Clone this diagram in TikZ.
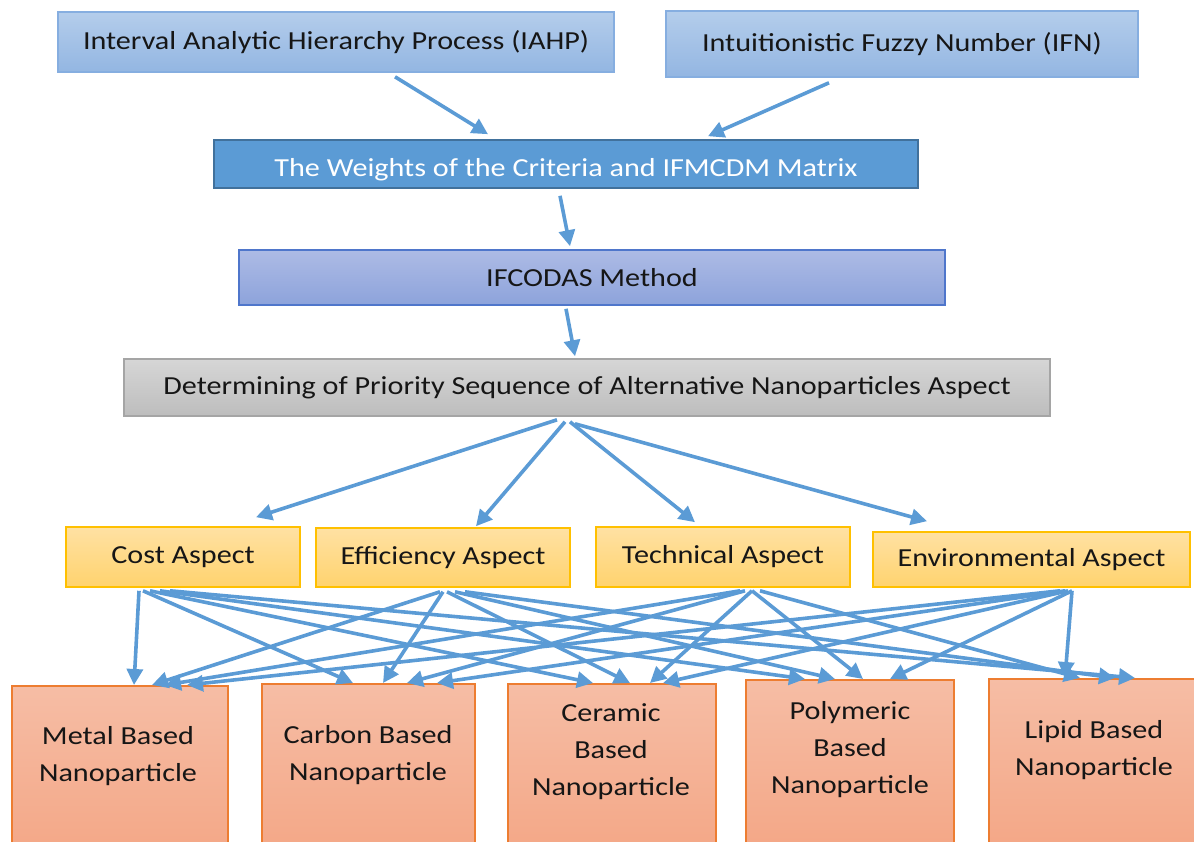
\documentclass[tikz,border=0pt]{standalone}
\usepackage{fontspec}
\setmainfont{Carlito}[FakeStretch=1.16]
\usetikzlibrary{arrows.meta}

\definecolor{inkdark}{HTML}{161616}
\definecolor{arrowblue}{HTML}{5B9BD5}
\definecolor{skyTop}{HTML}{B4CDEB}
\definecolor{skyBot}{HTML}{93B6E2}
\definecolor{skyLine}{HTML}{86AEE0}
\definecolor{wFill}{HTML}{5B9BD5}
\definecolor{wLine}{HTML}{41719C}
\definecolor{mTop}{HTML}{ADBBE5}
\definecolor{mBot}{HTML}{8DA3DB}
\definecolor{mLine}{HTML}{4F76CB}
\definecolor{gTop}{HTML}{D6D6D6}
\definecolor{gBot}{HTML}{BDBDBD}
\definecolor{gLine}{HTML}{A5A5A5}
\definecolor{yTop}{HTML}{FFE1A3}
\definecolor{yBot}{HTML}{FFD36E}
\definecolor{yLine}{HTML}{FFC000}
\definecolor{oTop}{HTML}{F6BDA5}
\definecolor{oBot}{HTML}{F3A381}
\definecolor{oLine}{HTML}{ED7D31}

\begin{document}
\begin{tikzpicture}[x=1pt,y=-1pt,
  box/.style={rectangle, line width=1.6pt, inner sep=0pt, text=inkdark,
    font=\fontsize{26}{37}\selectfont},
  skybox/.style={box, draw=skyLine, top color=skyTop, bottom color=skyBot},
  weightbox/.style={box, draw=wLine, fill=wFill, text=white},
  methodbox/.style={box, draw=mLine, top color=mTop, bottom color=mBot},
  greybox/.style={box, draw=gLine, top color=gTop, bottom color=gBot},
  aspectbox/.style={box, draw=yLine, top color=yTop, bottom color=yBot},
  nanobox/.style={box, draw=oLine, top color=oTop, bottom color=oBot,
    anchor=north, minimum height=200pt},
  nanotext/.style={align=center, inner sep=0pt, text=inkdark,
    font=\fontsize{26}{37}\selectfont},
  arr/.style={draw=arrowblue, line width=3.6pt,
    -{Triangle[length=16pt,width=16pt]}},
]
\useasboundingbox (0,0) rectangle (1194,841);
\clip (0,0) rectangle (1194,841);

% --- method boxes ---
\node[skybox, minimum width=556pt, minimum height=60pt] (iahp) at (336,42)
  {Interval Analytic Hierarchy Process (IAHP)};
\node[skybox, minimum width=472pt, minimum height=66pt] (ifn) at (902,44)
  {Intuitionistic Fuzzy Number (IFN)};
\node[weightbox, minimum width=704pt, minimum height=48pt] (weights) at (566,164)
  {\raisebox{-12pt}[0pt][0pt]{The Weights of the Criteria and IFMCDM Matrix}};
\node[methodbox, minimum width=706pt, minimum height=55pt] (ifcodas) at (592,277.5)
  {IFCODAS Method};
\node[greybox, minimum width=926pt, minimum height=57pt] (det) at (587,387.5)
  {Determining of Priority Sequence of Alternative Nanoparticles Aspect};

% --- aspects ---
\node[aspectbox, minimum width=234pt, minimum height=60pt] (cost) at (183,557) {Cost Aspect};
\node[aspectbox, minimum width=254pt, minimum height=59pt] (eff) at (443,557.5) {Efficiency Aspect};
\node[aspectbox, minimum width=254pt, minimum height=60pt] (tech) at (723,557) {Technical Aspect};
\node[aspectbox, minimum width=317pt, minimum height=55pt] (env) at (1031.5,559.5) {Environmental Aspect};

% --- nanoparticle alternatives ---
\node[nanobox, minimum width=216pt] (metal) at (120,685) {};
\node[nanobox, minimum width=213pt] (carbon) at (368.5,683) {};
\node[nanobox, minimum width=208pt] (ceramic) at (612,683) {};
\node[nanobox, minimum width=208pt] (poly) at (850,679) {};
\node[nanobox, minimum width=222pt] (lipid) at (1100,678) {};

\node[nanotext] (metal-t) at (118,756) {Metal Based\\Nanoparticle};
\node[nanotext] (carbon-t) at (368,755) {Carbon Based\\Nanoparticle};
\node[nanotext] (ceramic-t) at (611,752) {Ceramic\\Based\\Nanoparticle};
\node[nanotext] (poly-t) at (850,750) {Polymeric\\Based\\Nanoparticle};
\node[nanotext] (lipid-t) at (1094,750) {Lipid Based\\Nanoparticle};

% --- upper flow ---
\draw[arr] ([xshift=59pt,yshift=-4pt]iahp.south) -- ([xshift=-78pt,yshift=5pt]weights.north);
\draw[arr] ([xshift=-73pt,yshift=-5pt]ifn.south) -- ([xshift=142pt,yshift=3pt]weights.north);
\draw[arr] ([xshift=-6pt,yshift=-7pt]weights.south) -- ([xshift=-22pt,yshift=3pt]ifcodas.north);
\draw[arr] ([xshift=-26pt,yshift=-3pt]ifcodas.south) -- ([xshift=-12pt,yshift=2pt]det.north);

% --- priority sequence to aspects ---
\draw[arr] ([xshift=-30pt,yshift=-3pt]det.south) -- ([xshift=73pt,yshift=9pt]cost.north);
\draw[arr] ([xshift=-22pt,yshift=-5pt]det.south) -- ([xshift=33pt,yshift=1pt]eff.north);
\draw[arr] ([xshift=-17pt,yshift=-5pt]det.south) -- ([xshift=-28pt,yshift=4pt]tech.north);
\draw[arr] ([xshift=-12pt,yshift=-7pt]det.south) -- ([xshift=-104.5pt,yshift=10pt]env.north);

% --- every aspect to every alternative ---
\draw[arr] ([xshift=-44pt,yshift=-3pt]cost.south) -- ([xshift=14pt]metal.north);
\draw[arr] ([xshift=-40pt,yshift=-3pt]cost.south) -- ([xshift=-15.5pt]carbon.north);
\draw[arr] ([xshift=-33pt,yshift=-3pt]cost.south) -- ([xshift=-19pt]ceramic.north);
\draw[arr] ([xshift=-23pt,yshift=-3pt]cost.south) -- ([xshift=-45pt]poly.north);
\draw[arr] ([xshift=-13pt,yshift=-3pt]cost.south) -- ([xshift=35pt]lipid.north);

\draw[arr] ([xshift=-3pt,yshift=-4pt]eff.south) -- ([xshift=32pt]metal.north);
\draw[arr] ([xshift=0pt,yshift=-4pt]eff.south) -- ([xshift=14.5pt]carbon.north);
\draw[arr] ([xshift=4pt,yshift=-4pt]eff.south) -- ([xshift=18pt]ceramic.north);
\draw[arr] ([xshift=12pt,yshift=-4pt]eff.south) -- ([xshift=-15pt]poly.north);
\draw[arr] ([xshift=22pt,yshift=-4pt]eff.south) -- ([xshift=15pt]lipid.north);

\draw[arr] ([xshift=17pt,yshift=-3pt]tech.south) -- ([xshift=45pt]metal.north);
\draw[arr] ([xshift=22pt,yshift=-3pt]tech.south) -- ([xshift=38.5pt]carbon.north);
\draw[arr] ([xshift=29pt,yshift=-3pt]tech.south) -- ([xshift=38pt]ceramic.north);
\draw[arr] ([xshift=29pt,yshift=-3pt]tech.south) -- ([xshift=13pt]poly.north);
\draw[arr] ([xshift=37pt,yshift=-3pt]tech.south) -- ([xshift=-20pt]lipid.north);

\draw[arr] ([xshift=28.5pt,yshift=-3pt]env.south) -- ([xshift=67pt]metal.north);
\draw[arr] ([xshift=33.5pt,yshift=-3pt]env.south) -- ([xshift=68.5pt]carbon.north);
\draw[arr] ([xshift=36.5pt,yshift=-3pt]env.south) -- ([xshift=51pt]ceramic.north);
\draw[arr] ([xshift=40.5pt,yshift=-3pt]env.south) -- ([xshift=40pt]poly.north);
\draw[arr] ([xshift=40.5pt,yshift=-3pt]env.south) -- ([xshift=-35pt]lipid.north);
\end{tikzpicture}
\end{document}
